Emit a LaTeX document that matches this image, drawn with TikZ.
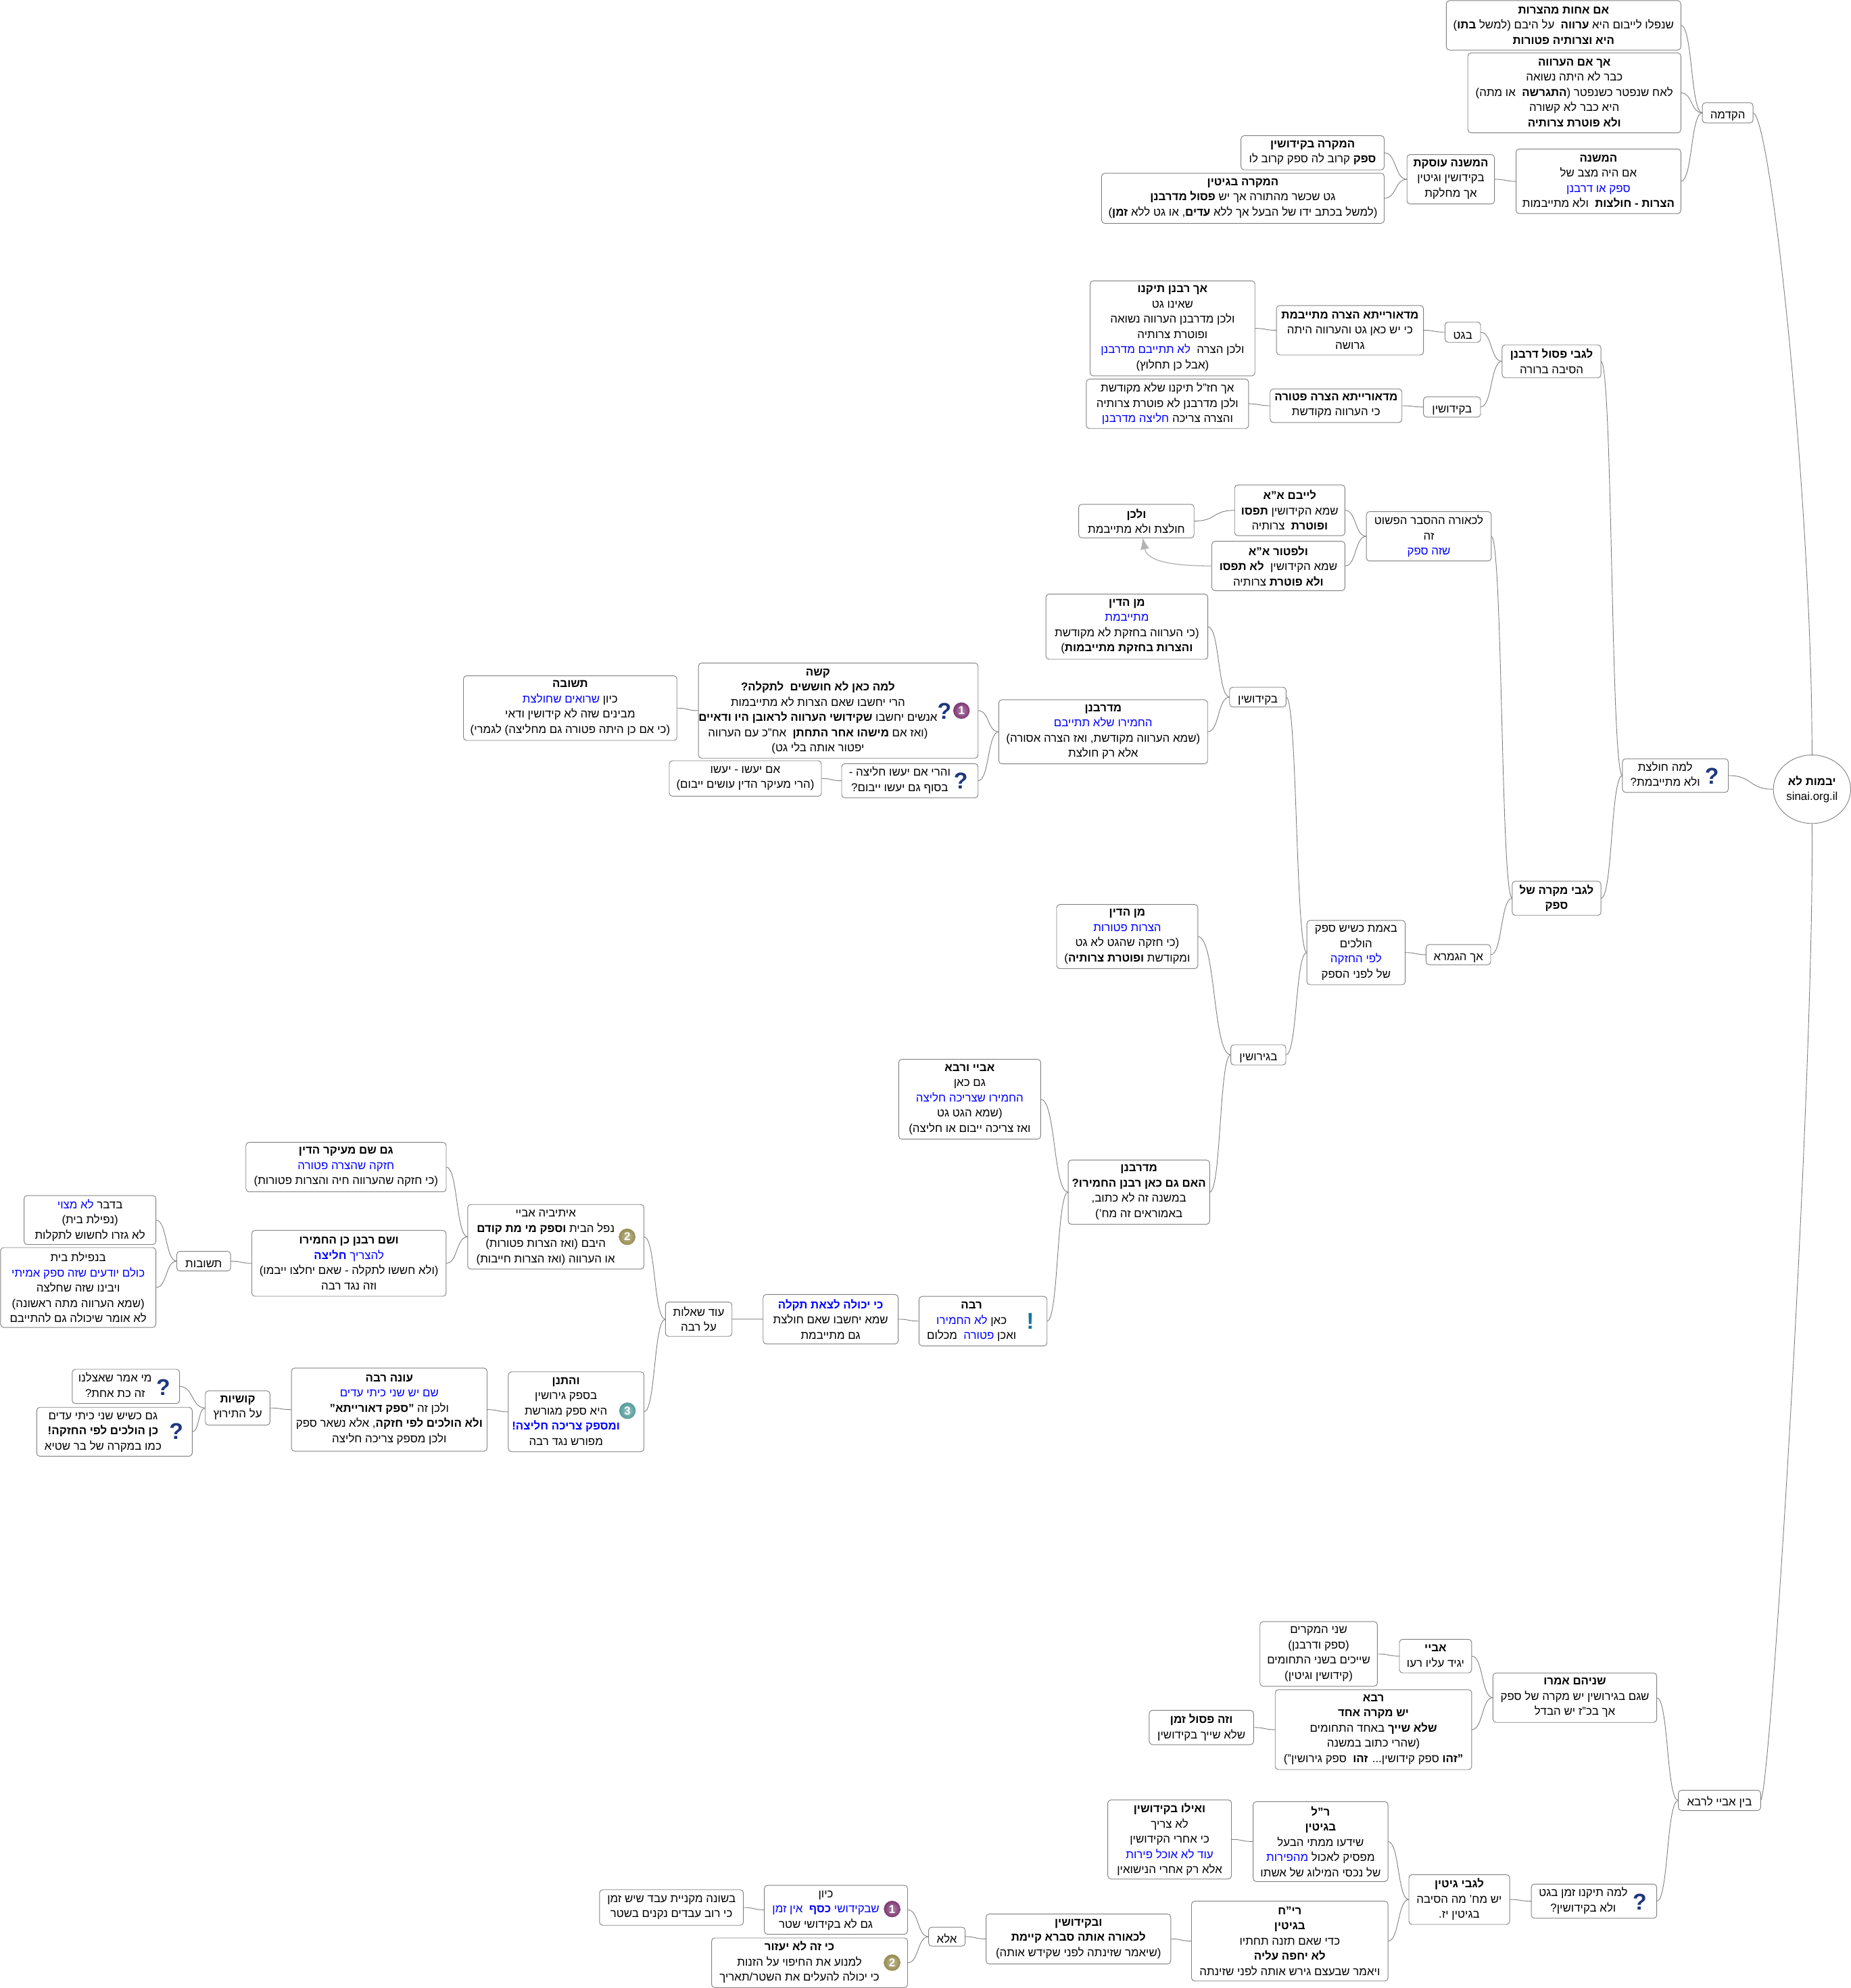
\documentclass[tikz,border=0pt]{standalone}
\usepackage{fontspec}
\setmainfont[Script=Hebrew]{Liberation Sans}
\usetikzlibrary{calc}
\usetikzlibrary{arrows.meta}
\usetikzlibrary{shapes.geometric}
\TeXXeTstate=1
\definecolor{hblue}{RGB}{0,0,255}
\definecolor{edgegray}{RGB}{130,130,130}
\definecolor{qnavy}{RGB}{30,55,125}
\definecolor{numA}{RGB}{125,55,115}
\definecolor{numB}{RGB}{150,140,80}
\definecolor{numC}{RGB}{85,155,155}
\newcommand{\rl}[1]{\beginR #1\endR}
\newcommand{\hc}[1]{{\color{hblue}\beginR #1\endR}}
\newcommand{\padleft}[2]{\raisebox{-2pt}{\begin{tabular}{@{}c@{}}#2\end{tabular}}\hspace*{#1pt}}

\begin{document}
\begin{tikzpicture}[
    x=1pt, y=-1pt,
    mapbox/.style 2 args={
        draw=edgegray, line width=0.5pt, rounded corners=2.5pt, fill=white,
        align=center, inner sep=0pt, outer sep=0pt,
        font=\fontsize{9}{12}\selectfont,
        execute at begin node={\rule{0pt}{10.5pt}},
        minimum width=#1, minimum height=#2
    },
    maplink/.style={
        draw=edgegray, line width=0.5pt,
        to path={.. controls ($(\tikztostart)!0.55!(\tikztotarget|-\tikztostart)$)
            and ($(\tikztotarget)!0.55!(\tikztostart|-\tikztotarget)$) .. (\tikztotarget)}
    },
    qmark/.style={font=\fontsize{18}{18}\bfseries\selectfont, text=qnavy, inner sep=0pt},
    numicon/.style={circle, inner color=#1!60!white, outer color=#1, text=white, inner sep=0pt,
        minimum size=13pt, font=\fontsize{9}{9}\bfseries\selectfont}
]
    \useasboundingbox (0,0) rectangle (1460,1568);

    % Root
    \node[draw=edgegray, line width=0.5pt, ellipse, fill=white, inner sep=0pt, align=center,
        minimum width=61, minimum height=54, font=\fontsize{9}{12}\selectfont,
        execute at begin node={\rule{0pt}{9pt}}]
        (root) at (1429.5,622.5) {\rl{\textbf{יבמות לא}}\\ sinai.org.il};

    % Top branch
    \node[mapbox={185}{39}] (ahot) at (1233.5,20) {\rl{\textbf{אם אחות מהצרות}}\\
        \rl{שנפלו לייבום היא \textbf{ערווה}~ על היבם (למשל \textbf{בתו})}\\
        \rl{\textbf{היא וצרותיה פטורות}}};
    \node[mapbox={168}{63}] (arva) at (1242,73.2) {\rl{\textbf{אך אם הערווה}}\\
        \rl{כבר לא היתה נשואה}\\
        \rl{לאח שנפטר כשנפטר (\textbf{התגרשה}~ או מתה)}\\
        \rl{היא כבר לא קשורה}\\
        \rl{\textbf{ולא פוטרת צרותיה}}};
    \node[mapbox={130}{51}] (mishna) at (1261,143) {\rl{\textbf{המשנה}}\\
        \rl{אם היה מצב של}\\
        \hc{ספק או דרבנן}\\
        \rl{\textbf{הצרות - חולצות}~ ולא מתייבמות}};
    \node[mapbox={40}{16}] (hakdama) at (1363,89) {\rl{הקדמה}};
    \node[mapbox={113}{27}] (mkid) at (1035.5,120.5) {\rl{\textbf{המקרה בקידושין}}\\
        \rl{\textbf{ספק} קרוב לה ספק קרוב לו}};
    \node[mapbox={223}{39.5}] (mgit) at (980.5,156.4) {\rl{\textbf{המקרה בגיטין}}\\
        \rl{גט שכשר מהתורה אך יש \textbf{פסול מדרבנן}}\\
        \rl{(למשל בכתב ידו של הבעל אך ללא \textbf{עדים}, או גט ללא \textbf{זמן})}};
    \node[mapbox={69}{39}] (osek) at (1144.5,141.4) {\rl{\textbf{המשנה עוסקת}}\\
        \rl{בקידושין וגיטין}\\
        \rl{אך מחלקת}};

    % Psul derabanan
    \node[mapbox={130}{75}] (tiknu) at (925,259) {\rl{\textbf{אך רבנן תיקנו}}\\
        \rl{שאינו גט}\\
        \rl{ולכן מדרבנן הערווה נשואה}\\
        \rl{ופוטרת צרותיה}\\
        \hc{לא תתייבם מדרבנן}~~\rl{ולכן הצרה}\\
        \rl{(אבל כן תחלוץ)}};
    \node[mapbox={116}{39}] (deoraita) at (1065,260.5) {\rl{\textbf{מדאורייתא הצרה מתייבמת}}\\
        \rl{כי יש כאן גט והערווה היתה}\\
        \rl{גרושה}};
    \node[mapbox={28}{16}] (bget) at (1154,262) {\rl{בגט}};
    \node[mapbox={78}{26}] (psul) at (1224,285) {\rl{\textbf{לגבי פסול דרבנן}}\\
        \rl{הסיבה ברורה}};
    \node[mapbox={128}{39}] (hazal) at (921,318.5) {\rl{אך חז"ל תיקנו שלא מקודשת}\\
        \rl{ולכן מדרבנן לא פוטרת צרותיה}\\
        \hc{חליצה מדרבנן} \rl{והצרה צריכה}};
    \node[mapbox={104}{26.5}] (ptura) at (1054,320) {\rl{\textbf{מדאורייתא הצרה פטורה}}\\
        \rl{כי הערווה מקודשת}};
    \node[mapbox={45}{16}] (bkid) at (1145.5,321) {\rl{בקידושין}};

    % Safek
    \node[mapbox={91}{26.5}] (velachen) at (896.5,411) {\rl{\textbf{ולכן}}\\
        \rl{חולצת ולא מתייבמת}};
    \node[mapbox={87}{40}] (leyabem) at (1017.5,402.5) {\rl{\textbf{לייבם א"א}}\\
        \rl{שמא הקידושין \textbf{תפסו}}\\
        \rl{\textbf{ופוטרת}~ צרותיה}};
    \node[mapbox={105}{39}] (lefator) at (1008.5,446.4) {\rl{\textbf{ולפטור א"א}}\\
        \rl{שמא הקידושין~ \textbf{לא תפסו}}\\
        \rl{\textbf{ולא פוטרת} צרותיה}};
    \node[mapbox={98.5}{39}] (lechora) at (1127.2,423) {\rl{לכאורה ההסבר הפשוט}\\
        \rl{זה}\\
        \hc{שזה ספק}};
    \node[mapbox={127.7}{51.4}] (mindinA) at (889,494.3) {\rl{\textbf{מן הדין}}\\
        \hc{מתייבמת}\\
        \rl{(כי הערווה בחזקת לא מקודשת}\\
        \rl{\textbf{והצרות בחזקת מתייבמות})}};
    \node[mapbox={164.7}{50.5}] (derabA) at (870.3,577.2) {\rl{\textbf{מדרבנן}}\\
        \hc{החמירו שלא תתייבם}\\
        \rl{(שמא הערווה מקודשת, ואז הצרה אסורה)}\\
        \rl{אלא רק חולצת}};
    \node[mapbox={44.6}{15.6}] (bkidB) at (992.3,549.8) {\rl{בקידושין}};
    \node[mapbox={83.5}{26.5}] (lama) at (1321.7,611.7) {\padleft{16}{\rl{למה חולצת}\\
        \rl{ולא מתייבמת?}}};
    \node[qmark] (qlama) at (1350.5,612) {?};
    \node[mapbox={70}{27}] (safek) at (1228,708.5) {\rl{\textbf{לגבי מקרה של}}\\
        \rl{\textbf{ספק}}};
    \node[mapbox={111.4}{50.6}] (mindinB) at (889.3,738.7) {\rl{\textbf{מן הדין}}\\
        \hc{הצרות פטורות}\\
        \rl{(כי חזקה שהגט לא גט}\\
        \rl{ומקודשת \textbf{ופוטרת צרותיה})}};
    \node[mapbox={77.6}{50.7}] (beemet) at (1069.8,751.3) {\rl{באמת כשיש ספק}\\
        \rl{הולכים}\\
        \hc{לפי החזקה}\\
        \rl{של לפני הספק}};
    \node[mapbox={51}{16}] (gemara) at (1150.5,753) {\rl{אך הגמרא}};
    \node[mapbox={43.4}{16}] (bgerush) at (992.7,832) {\rl{בגירושין}};
    \node[mapbox={112}{63}] (abayerava) at (765,867) {\rl{\textbf{אביי ורבא}}\\
        \rl{גם כאן}\\
        \hc{החמירו שצריכה חליצה}\\
        \rl{(שמא הגט גט}\\
        \rl{ואז צריכה ייבום או חליצה)}};
    \node[mapbox={111.6}{50.6}] (derabB) at (898.5,940.3) {\rl{\textbf{מדרבנן}}\\
        \rl{\textbf{האם גם כאן רבנן החמירו?}}\\
        \rl{במשנה זה לא כתוב,}\\
        \rl{באמוראים זה מח')}};
    \node[mapbox={101}{39}] (rabba) at (775.5,1042) {\padleft{18}{\rl{\textbf{רבה}}\\
        \hc{לא החמירו} \rl{כאן}\\
        \rl{מכלום}~~\hc{פטורה} \rl{ואכן}}};
    \node[qmark, text=qnavy!70!cyan] (excl) at (812.8,1042) {!};

    % Kashe
    \node[mapbox={168.4}{51}] (tshuva) at (449.8,558.5) {\rl{\textbf{תשובה}}\\
        \hc{שרואים שחולצת} \rl{כיון}\\
        \rl{מבינים שזה לא קידושין ודאי}\\
        \rl{(כי אם כן היתה פטורה גם מחליצה) לגמרי)}};
    \node[mapbox={220.6}{75}] (kashe) at (661.3,560.5) {\padleft{32}{\rl{\textbf{קשה}}\\
        \rl{\textbf{למה כאן לא חוששים~ לתקלה?}}\\
        \rl{הרי יחשבו שאם הצרות לא מתייבמות}\\
        \rl{אנשים יחשבו \textbf{שקידושי הערווה לראובן היו ודאיים}}\\
        \rl{(ואז אם \textbf{מישהו אחר התחתן}~ אח"כ עם הערווה}\\
        \rl{יפטור אותה בלי גט)}}};
    \node[qmark] (qkashe) at (745,561) {?};
    \node[numicon=numA] (oneA) at (758.5,560.5) {1};
    \node[mapbox={120}{28}] (yaasu) at (588,614) {\rl{אם יעשו - יעשו}\\
        \rl{(הרי מעיקר הדין עושים ייבום)}};
    \node[mapbox={107.6}{27}] (vaharei) at (717.8,615.8) {\padleft{16}{\rl{והרי אם יעשו חליצה -}\\
        \rl{בסוף גם יעשו ייבום?}}};
    \node[qmark] (qvaharei) at (758,616) {?};

    % Od sheelot
    \node[mapbox={158}{39}] (gamsham) at (273,920.5) {\rl{\textbf{גם שם מעיקר הדין}}\\
        \hc{חזקה שהצרה פטורה}\\
        \rl{(כי חזקה שהערווה חיה והצרות פטורות)}};
    \node[mapbox={153.3}{52}] (vesham) at (275.3,996.4) {\rl{\textbf{ושם רבנן כן החמירו}}\\
        \hc{להצריך \textbf{חליצה}}\\
        \rl{(ולא חששו לתקלה - שאם יחלצו ייבמו)}\\
        \rl{וזה נגד רבה}};
    \node[mapbox={139}{51}] (itivei) at (438.5,975.5) {\padleft{16}{\rl{איתיביה אביי}\\
        \rl{נפל הבית \textbf{וספק מי מת קודם}}\\
        \rl{היבם (ואז הצרות פטורות)}\\
        \rl{או הערווה (ואז הצרות חייבות)}}};
    \node[numicon=numB] (twoA) at (494.8,975.5) {2};
    \node[mapbox={52.5}{27}] (odshe) at (551.2,1040.5) {\rl{עוד שאלות}\\
        \rl{על רבה}};
    \node[mapbox={106.6}{39}] (takala) at (655.3,1040.5) {\hc{\textbf{כי יכולה לצאת תקלה}}\\
        \rl{שמא יחשבו שאם חולצת}\\
        \rl{גם מתייבמת}};
    \node[mapbox={104}{38.6}] (bedavar) at (71,962.3) {\hc{לא מצוי} \rl{בדבר}\\
        \rl{(נפילת בית)}\\
        \rl{לא גזרו לחשוש לתקלות}};
    \node[mapbox={122.5}{63}] (binfilat) at (61.7,1015.5) {\rl{בנפילת בית}\\
        \hc{כולם יודעים שזה ספק אמיתי}\\
        \rl{ויבינו שזה שחלצה}\\
        \rl{(שמא הערווה מתה ראשונה)}\\
        \rl{לא אומר שיכולה גם להתייבם}};
    \node[mapbox={42.5}{15.5}] (tshuvot) at (160.7,994.7) {\rl{תשובות}};
    \node[mapbox={51}{27}] (kushiot) at (187.5,1110.5) {\rl{\textbf{קושיות}}\\
        \rl{על התירוץ}};
    \node[mapbox={84.7}{27}] (miamar) at (99.3,1093.5) {\padleft{17}{\rl{מי אמר שאצלנו}\\
        \rl{זה כת אחת?}}};
    \node[qmark] (qmiamar) at (128.7,1094) {?};
    \node[mapbox={122.7}{38.6}] (gamkshe) at (90.3,1129.3) {\padleft{18}{\rl{גם כשיש שני כיתי עדים}\\
        \rl{\textbf{כן הולכים לפי החזקה!}}\\
        \rl{כמו במקרה של בר שטיא}}};
    \node[qmark] (qgamkshe) at (139,1129) {?};
    \node[mapbox={154.3}{65.6}] (onerava) at (307.1,1111.8) {\rl{\textbf{עונה רבה}}\\
        \hc{שם יש שני כיתי עדים}\\
        \rl{ולכן זה \textbf{"ספק דאורייתא"}}\\
        \rl{\textbf{ולא הולכים לפי חזקה}, אלא נשאר ספק}\\
        \rl{ולכן מספק צריכה חליצה}};
    \node[mapbox={107}{63}] (vehatnan) at (454.5,1113.5) {\padleft{16}{\rl{\textbf{והתנן}}\\
        \rl{בספק גירושין}\\
        \rl{היא ספק מגורשת}\\
        \hc{\textbf{ומספק צריכה חליצה!}}\\
        \rl{מפורש נגד רבה}}};
    \node[numicon=numC] (threeA) at (495,1112.7) {3};

    % Bottom branch
    \node[mapbox={92.6}{51}] (shnei) at (1040.3,1304.5) {\rl{שני המקרים}\\
        \rl{(ספק ודרבנן)}\\
        \rl{שייכים בשני התחומים}\\
        \rl{(קידושין וגיטין)}};
    \node[mapbox={57}{26.5}] (abaye) at (1132.5,1306.2) {\rl{\textbf{אביי}}\\
        \rl{יגיד עליו רעו}};
    \node[mapbox={155}{63}] (rava) at (1083.5,1364.2) {\rl{\textbf{רבא}}\\
        \rl{\textbf{יש מקרה אחד}}\\
        \rl{\textbf{שלא שייך} באחד התחומים}\\
        \rl{(שהרי כתוב במשנה}\\
        \rl{\textbf{"זהו} ספק קידושין... \textbf{זהו}~ ספק גירושין")}};
    \node[mapbox={82.4}{27}] (psulzman) at (947.8,1362.5) {\rl{\textbf{וזה פסול זמן}}\\
        \rl{שלא שייך בקידושין}};
    \node[mapbox={129.2}{39}] (shneihem) at (1242.4,1339) {\rl{\textbf{שניהם אמרו}}\\
        \rl{שגם בגירושין יש מקרה של ספק}\\
        \rl{אך בכ"ז יש הבדל}};
    \node[mapbox={65}{16}] (bein) at (1356.5,1420) {\rl{בין אביי לרבא}};
    \node[mapbox={97.5}{62.4}] (veilu) at (922.7,1450.8) {\rl{\textbf{ואילו בקידושין}}\\
        \rl{לא צריך}\\
        \rl{כי אחרי הקידושין}\\
        \hc{עוד לא אוכל פירות}\\
        \rl{אלא רק אחרי הנישואין}};
    \node[mapbox={106.4}{63}] (resh) at (1041.8,1452.5) {\rl{\textbf{ר"ל}}\\
        \rl{\textbf{בגיטין}}\\
        \rl{שידעו ממתי הבעל}\\
        \hc{מהפירות} \rl{מפסיק לאכול}\\
        \rl{של נכסי המילוג של אשתו}};
    \node[mapbox={155}{63}] (rihach) at (1017.5,1531) {\rl{\textbf{רי"ח}}\\
        \rl{\textbf{בגיטין}}\\
        \rl{כדי שאם תזנה תחתיו}\\
        \rl{\textbf{לא יחפה עליה}}\\
        \rl{ויאמר שבעצם גירש אותה לפני שזינתה}};
    \node[mapbox={79.5}{39.3}] (lgittin) at (1151.2,1498.2) {\rl{\textbf{לגבי גיטין}}\\
        \rl{יש מח' מה הסיבה}\\
        \rl{בגיטין יז.}};
    \node[mapbox={99}{27}] (lamazman) at (1257.5,1499.5) {\padleft{17}{\rl{למה תיקנו זמן בגט}\\
        \rl{ולא בקידושין?}}};
    \node[qmark] (qzman) at (1293.6,1500) {?};
    \node[mapbox={145.7}{39.4}] (ukid) at (850.8,1529.3) {\rl{\textbf{ובקידושין}}\\
        \rl{\textbf{לכאורה אותה סברא קיימת}}\\
        \rl{(שיאמר שזינתה לפני שקידש אותה)}};
    \node[mapbox={28.8}{15}] (ela) at (747,1527.5) {\rl{אלא}};
    \node[mapbox={113}{38.6}] (keyvan) at (659.5,1506.3) {\padleft{16}{\rl{כיון}\\
        \hc{שבקידושי \textbf{כסף}~ אין זמן}\\
        \rl{גם לא בקידושי שטר}}};
    \node[numicon=numA] (oneB) at (703.8,1505.7) {1};
    \node[mapbox={154.6}{39.2}] (loyaazor) at (638.7,1548.1) {\padleft{16}{\rl{\textbf{כי זה לא יעזור}}\\
        \rl{למנוע את החיפוי על הזנות}\\
        \rl{כי יכולה להעלים את השטר/תאריך}}};
    \node[numicon=numB] (twoB) at (703.8,1548) {2};
    \node[mapbox={113.5}{28}] (beshona) at (529.7,1504.5) {\rl{בשונה מקניית עבד שיש זמן}\\
        \rl{כי רוב עבדים נקנים בשטר}};

    % Connectors
    \draw[draw=edgegray, line width=0.5pt] (hakdama.east) .. controls +(14,2) and +(0,-200) .. (root.north);
    \draw[draw=edgegray, line width=0.5pt] (bein.east) .. controls +(8,-6) and +(2,200) .. (root.south);
    \draw[maplink] (lama.east) to (root.west);

    \draw[maplink] (ahot.east) to (hakdama.west);
    \draw[maplink] (arva.east) to (hakdama.west);
    \draw[maplink] (mishna.east) to (hakdama.west);
    \draw[maplink] (osek.east) to (mishna.west);
    \draw[maplink] (mkid.east) to (osek.west);
    \draw[maplink] (mgit.east) to (osek.west);

    \draw[maplink] (psul.east) to (lama.west);
    \draw[maplink] (bget.east) to (psul.west);
    \draw[maplink] (bkid.east) to (psul.west);
    \draw[maplink] (deoraita.east) to (bget.west);
    \draw[maplink] (tiknu.east) to (deoraita.west);
    \draw[maplink] (ptura.east) to (bkid.west);
    \draw[maplink] (hazal.east) to (ptura.west);

    \draw[maplink] (safek.east) to (lama.west);
    \draw[maplink] (lechora.east) to (safek.west);
    \draw[maplink] (gemara.east) to (safek.west);
    \draw[maplink] (leyabem.east) to (lechora.west);
    \draw[maplink] (lefator.east) to (lechora.west);
    \draw[maplink] (velachen.east) to (leyabem.west);
    \draw[draw=black!30, line width=0.7pt, -{Latex[length=9pt,width=7pt]}] (lefator.west)
        .. controls +(-40,0) and +(3,16) .. ([xshift=5]velachen.south);
    \draw[maplink] (beemet.east) to (gemara.west);
    \draw[maplink] (bkidB.east) to (beemet.west);
    \draw[maplink] (bgerush.east) to (beemet.west);
    \draw[maplink] (mindinA.east) to (bkidB.west);
    \draw[maplink] (derabA.east) to (bkidB.west);
    \draw[maplink] (kashe.east) to (derabA.west);
    \draw[maplink] (vaharei.east) to (derabA.west);
    \draw[maplink] (tshuva.east) to (kashe.west);
    \draw[maplink] (yaasu.east) to (vaharei.west);
    \draw[maplink] (mindinB.east) to (bgerush.west);
    \draw[maplink] (derabB.east) to (bgerush.west);
    \draw[maplink] (abayerava.east) to (derabB.west);
    \draw[maplink] (rabba.east) to (derabB.west);
    \draw[maplink] (takala.east) to (rabba.west);
    \draw[maplink] (odshe.east) to (takala.west);
    \draw[maplink] (itivei.east) to (odshe.west);
    \draw[maplink] (vehatnan.east) to (odshe.west);
    \draw[maplink] (gamsham.east) to (itivei.west);
    \draw[maplink] (vesham.east) to (itivei.west);
    \draw[maplink] (tshuvot.east) to (vesham.west);
    \draw[maplink] (bedavar.east) to (tshuvot.west);
    \draw[maplink] (binfilat.east) to (tshuvot.west);
    \draw[maplink] (onerava.east) to (vehatnan.west);
    \draw[maplink] (kushiot.east) to (onerava.west);
    \draw[maplink] (miamar.east) to (kushiot.west);
    \draw[maplink] (gamkshe.east) to (kushiot.west);

    \draw[maplink] (shneihem.east) to (bein.west);
    \draw[maplink] (lamazman.east) to (bein.west);
    \draw[maplink] (abaye.east) to (shneihem.west);
    \draw[maplink] (rava.east) to (shneihem.west);
    \draw[maplink] (shnei.east) to (abaye.west);
    \draw[maplink] (psulzman.east) to (rava.west);
    \draw[maplink] (lgittin.east) to (lamazman.west);
    \draw[maplink] (resh.east) to (lgittin.west);
    \draw[maplink] (rihach.east) to (lgittin.west);
    \draw[maplink] (veilu.east) to (resh.west);
    \draw[maplink] (ukid.east) to (rihach.west);
    \draw[maplink] (ela.east) to (ukid.west);
    \draw[maplink] (keyvan.east) to (ela.west);
    \draw[maplink] (loyaazor.east) to (ela.west);
    \draw[maplink] (beshona.east) to (keyvan.west);
\end{tikzpicture}
\end{document}
